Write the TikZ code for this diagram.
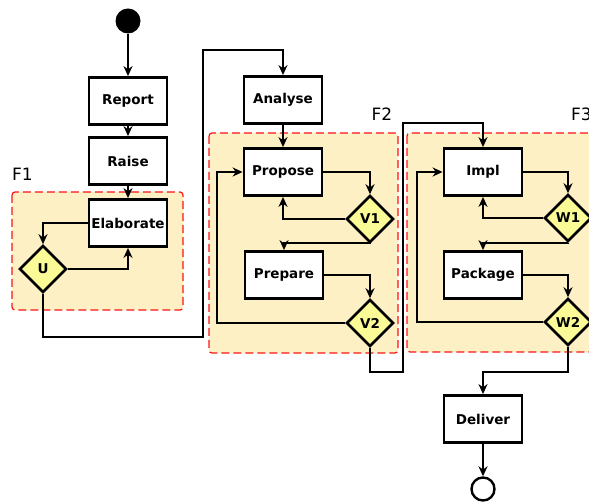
\documentclass[tikz,border=0pt]{standalone}
\usepackage{fontspec}
\setmainfont{DejaVu Sans}
\usetikzlibrary{shapes.geometric,arrows.meta}
\definecolor{regfill}{RGB}{253,240,196}
\definecolor{diafill}{RGB}{250,250,150}
\definecolor{regline}{RGB}{250,20,20}
\begin{document}
\begin{tikzpicture}[x=1pt,y=-1pt,
  box/.style={draw,line width=2.8pt,fill=white,minimum width=78pt,minimum height=47pt,inner sep=0pt,font=\fontsize{13.5}{14}\selectfont\bfseries},
  dia/.style={diamond,draw,line width=2.6pt,fill=diafill,minimum width=47pt,minimum height=47pt,inner sep=0pt,font=\fontsize{13.5}{14}\selectfont\bfseries},
  arr/.style={line width=2pt,-{Stealth[length=10pt,width=9pt]}},
  region/.style={draw=regline,fill=regfill,line width=1.2pt,dash pattern=on 8pt off 4pt,rounded corners=3pt},
  flab/.style={font=\fontsize{17}{18}\selectfont,inner sep=0pt}]
\useasboundingbox (0,0) rectangle (589,502);
% regions
\path[region] (12,192) rectangle (183,310);
\path[region] (209,133) rectangle (398,353);
\path[region] (407,133) rectangle (600,352);
\node[flab] (f1) at (22.5,174) {F1};
\node[flab] (f2) at (382,114) {F2};
\node[flab,anchor=west] (f3) at (571,114) {F3};
% nodes
\node[circle,fill=black,minimum size=25pt,inner sep=0pt] (start) at (128,21) {};
\node[box] (report) at (128,101) {Report};
\node[box] (raise) at (128,161) {Raise};
\node[box] (elab) at (128,223) {Elaborate};
\node[dia] (U) at (43,269) {U};
\node[box] (analyse) at (283,100) {Analyse};
\node[box] (propose) at (283,172) {Propose};
\node[dia] (V1) at (370,219) {V1};
\node[box] (prepare) at (284,275) {Prepare};
\node[dia] (V2) at (370,323) {V2};
\node[box] (impl) at (483,172) {Impl};
\node[dia] (W1) at (568,218) {W1};
\node[box] (package) at (483,275) {Package};
\node[dia] (W2) at (568,322) {W2};
\node[box] (deliver) at (483,419) {Deliver};
\node[circle,draw,line width=2.4pt,fill=white,minimum size=23pt,inner sep=0pt] (end) at (483,489) {};
% coordinates
\coordinate (j1) at (203,337);
\coordinate (j2) at (203,50);
\coordinate (k1) at (370,243);
\coordinate (l2) at (217,172);
\coordinate (m1) at (403,372);
\coordinate (m2) at (403,123);
\coordinate (p1) at (568,243);
\coordinate (q2) at (417,172);
\coordinate (n1) at (568,372);
% connectors
\draw[arr] (start) -- (report);
\draw[arr] (report) -- (raise);
\draw[arr] (raise) -- (elab);
\draw[arr] (elab.west) -| (U.north);
\draw[arr] (U.east) -| (elab.south);
\draw[arr] (U.south) |- (j1) -- (j2) -| (analyse.north);
\draw[arr] (analyse) -- (propose);
\draw[arr] (propose.east) -| (V1.north);
\draw[arr] (V1.west) -| (propose.south);
\draw[arr] (V1.south) -- (k1) -| (prepare.north);
\draw[arr] (prepare.east) -| (V2.north);
\draw[arr] (V2.west) -| (l2) -- (propose.west);
\draw[arr] (V2.south) |- (m1) -- (m2) -| (impl.north);
\draw[arr] (impl.east) -| (W1.north);
\draw[arr] (W1.west) -| (impl.south);
\draw[arr] (W1.south) -- (p1) -| (package.north);
\draw[arr] (package.east) -| (W2.north);
\draw[arr] (W2.west) -| (q2) -- (impl.west);
\draw[arr] (W2.south) -- (n1) -| (deliver.north);
\draw[arr] (deliver) -- (end);
\end{tikzpicture}
\end{document}
